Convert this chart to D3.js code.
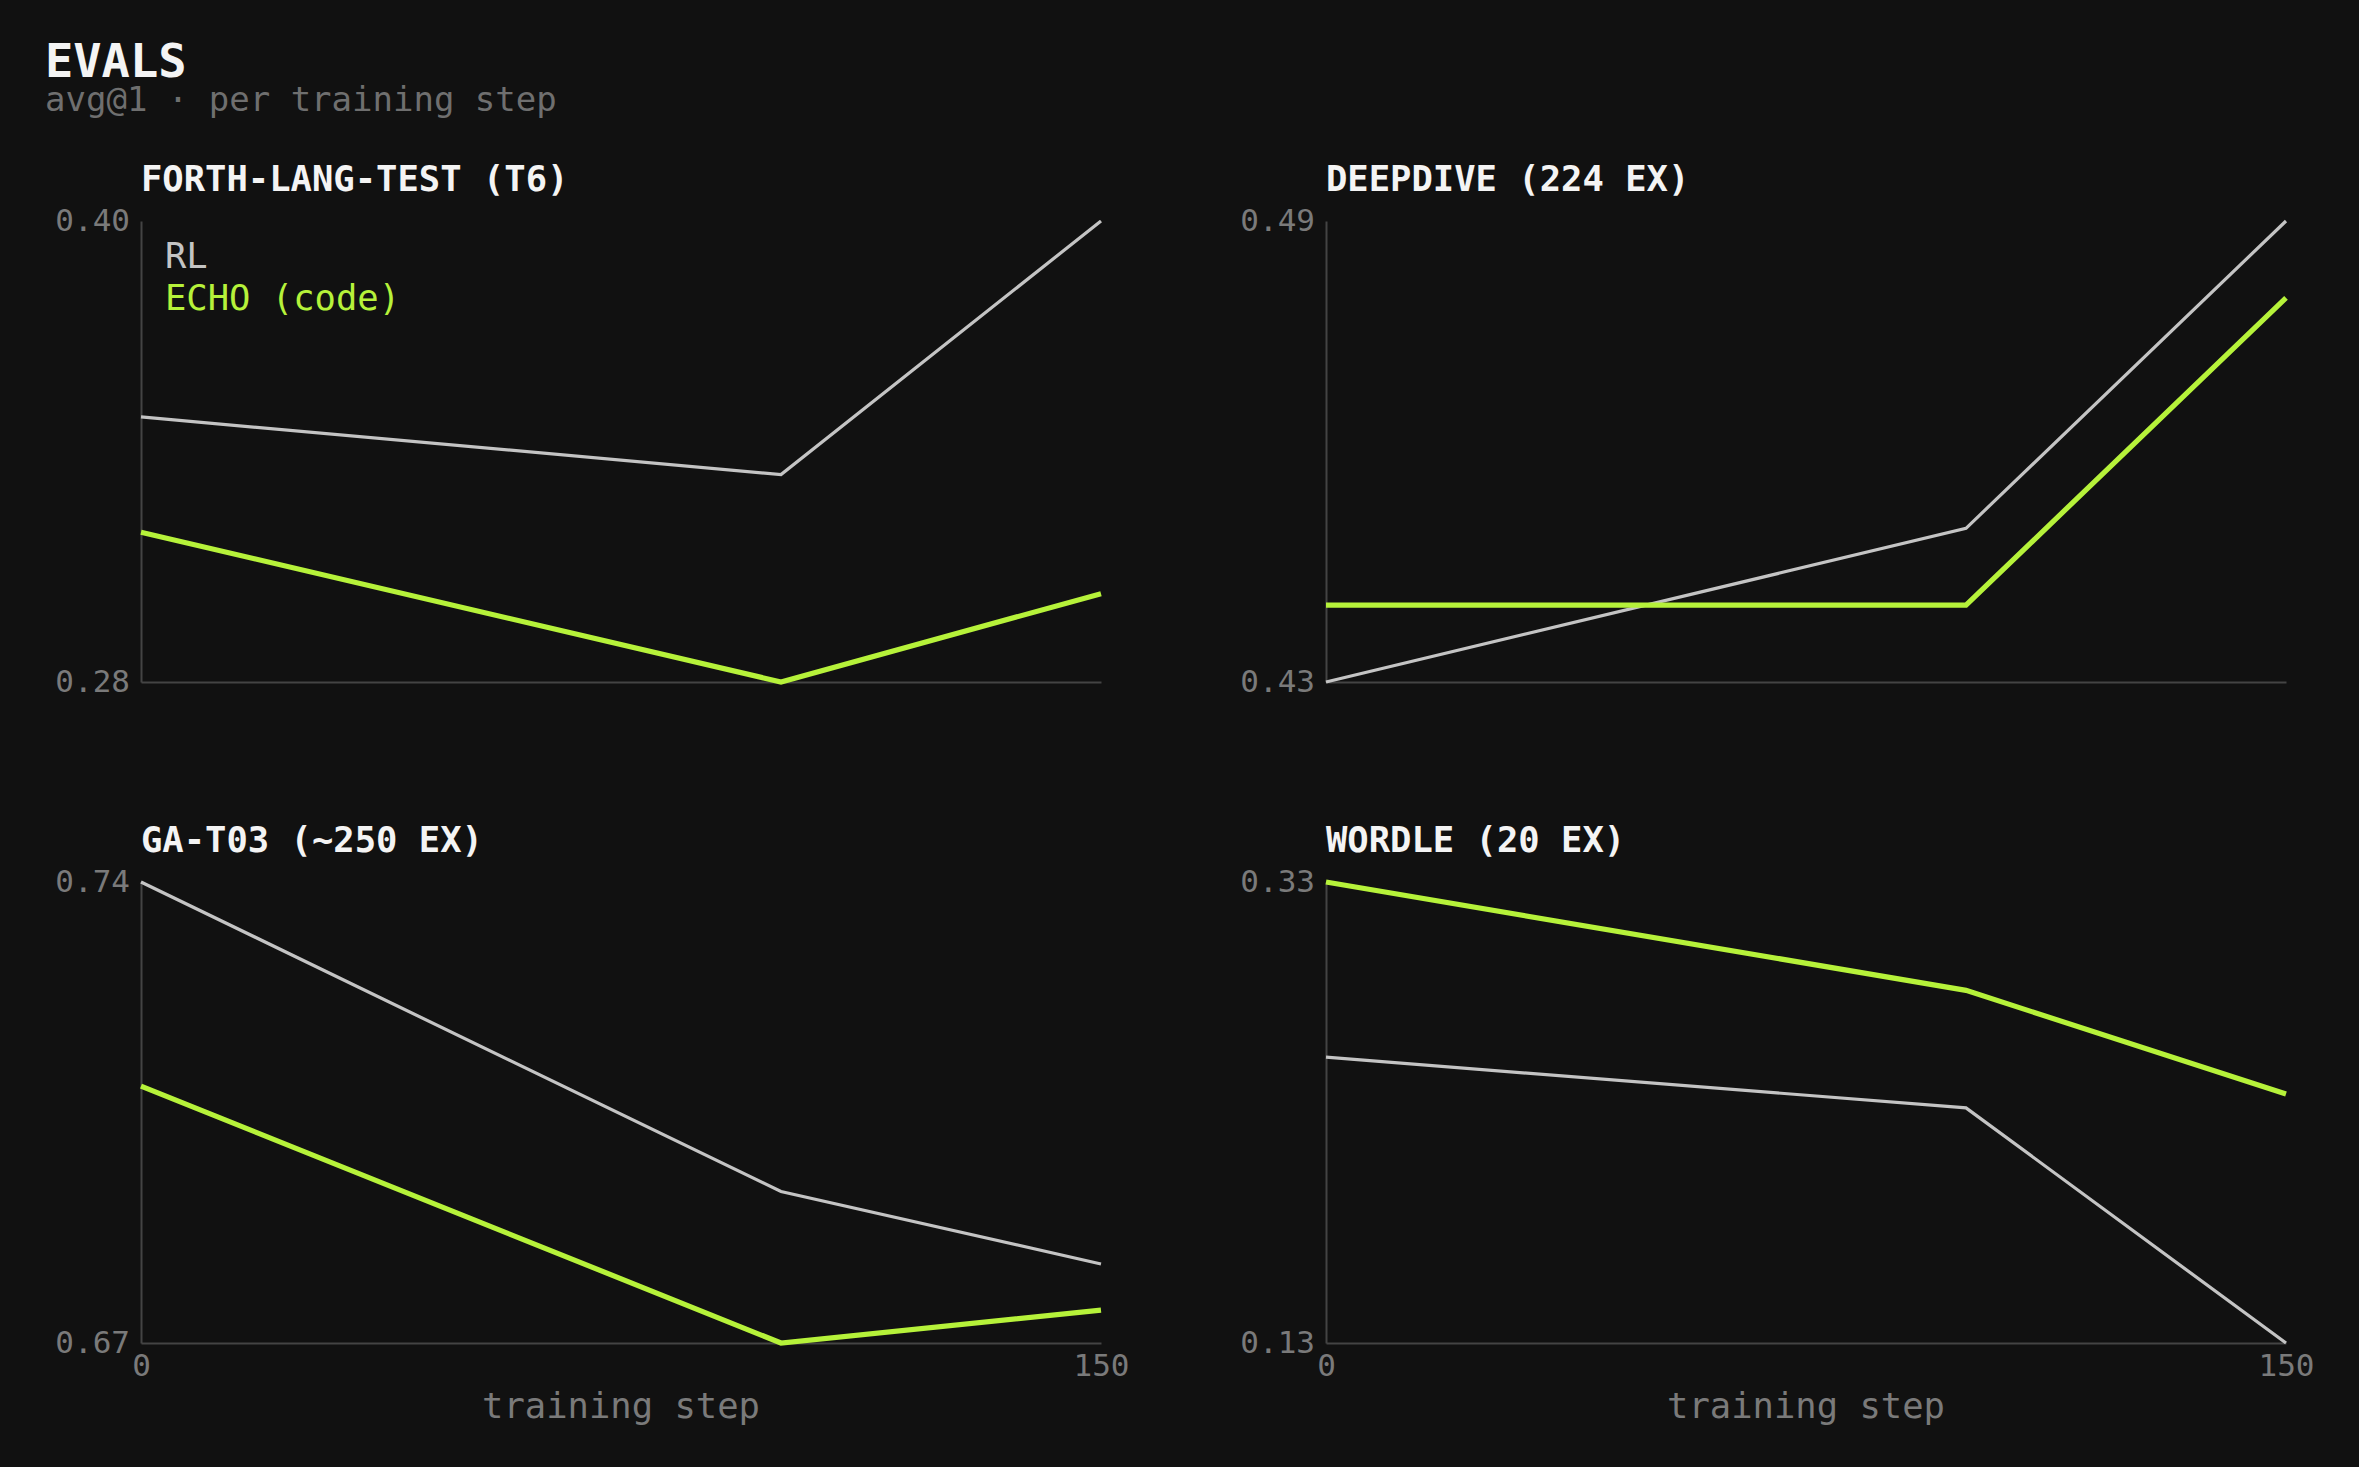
<!DOCTYPE html>
<html>
<head>
<meta charset="utf-8">
<script src="https://cdn.jsdelivr.net/npm/d3@7"></script>
<style>
  html, body { margin: 0; padding: 0; background: #111111; }
  svg { display: block; }
  text { font-family: "DejaVu Sans Mono", "Liberation Mono", monospace; }
</style>
</head>
<body>
<div id="chart"></div>
<script>
// chart values
var steps = [0, 100, 150];
var xTickLabels = [0, 150];
var panelTitles = ["FORTH-LANG-TEST (T6)", "DEEPDIVE (224 EX)", "GA-T03 (~250 EX)", "WORDLE (20 EX)"];
var yDomains = [[0.28, 0.40], [0.43, 0.49], [0.67, 0.74], [0.13, 0.33]];
var rlValues = [
  [0.349, 0.334, 0.400],
  [0.430, 0.450, 0.490],
  [0.740, 0.693, 0.682],
  [0.254, 0.232, 0.130]
];
var echoValues = [
  [0.319, 0.280, 0.303],
  [0.440, 0.440, 0.480],
  [0.709, 0.670, 0.675],
  [0.330, 0.283, 0.238]
];
var seriesNames = ["RL", "ECHO (code)"];

// Define SVG area dimensions
var svgWidth = 2359;
var svgHeight = 1467;

var colors = {
  bg: "#111111",
  axis: "#444444",
  tick: "#7a7a7a",
  rl: "#c4c4c4",
  echo: "#b6f23a",
  title: "#f4f4f4"
};

// panel grid
var panelWidth = 960;
var panelHeight = 461;
var colX = [141, 1326];
var rowY = [221, 882];

var svg = d3.select("#chart")
  .append("svg")
  .attr("width", svgWidth)
  .attr("height", svgHeight);

svg.append("rect")
  .attr("width", svgWidth)
  .attr("height", svgHeight)
  .attr("fill", colors.bg);

// header
svg.append("text")
  .attr("x", 45)
  .attr("y", 77)
  .attr("fill", colors.title)
  .attr("font-size", 47)
  .attr("font-weight", "bold")
  .text("EVALS");

svg.append("text")
  .attr("x", 45)
  .attr("y", 111)
  .attr("fill", "#6f6f6f")
  .attr("font-size", 34)
  .text("avg@1 \u00b7 per training step");

var xScale = d3.scaleLinear()
  .domain([steps[0], steps[steps.length - 1]])
  .range([0, panelWidth]);

panelTitles.forEach(function(title, i) {
  var col = i % 2;
  var row = Math.floor(i / 2);
  var isBottom = row === 1;

  var g = svg.append("g")
    .attr("transform", `translate(${colX[col]}, ${rowY[row]})`);

  var yScale = d3.scaleLinear()
    .domain(yDomains[i])
    .range([panelHeight, 0]);

  // title
  g.append("text")
    .attr("x", 0)
    .attr("y", -30)
    .attr("fill", colors.title)
    .attr("font-size", 35.5)
    .attr("font-weight", "bold")
    .text(title);

  // y axis: just the two ends
  var leftAxis = d3.axisLeft(yScale)
    .tickValues(yDomains[i])
    .tickFormat(d3.format(".2f"))
    .tickSize(0)
    .tickPadding(11);

  var yAxisG = g.append("g").call(leftAxis);

  // x axis
  var bottomAxis = d3.axisBottom(xScale)
    .tickValues(isBottom ? xTickLabels : [])
    .tickFormat(d3.format("d"))
    .tickSize(0)
    .tickPadding(11);

  var xAxisG = g.append("g")
    .attr("transform", `translate(0, ${panelHeight})`)
    .call(bottomAxis);

  [yAxisG, xAxisG].forEach(function(a) {
    a.select(".domain").attr("stroke", colors.axis).attr("stroke-width", 2);
    a.selectAll("text")
      .attr("fill", colors.tick)
      .attr("font-size", 31)
      .attr("font-family", "DejaVu Sans Mono");
  });

  if (isBottom) {
    g.append("text")
      .attr("x", panelWidth / 2)
      .attr("y", panelHeight + 75)
      .attr("text-anchor", "middle")
      .attr("fill", colors.tick)
      .attr("font-size", 35.5)
      .text("training step");
  }

  var line = d3.line()
    .x(function(d, j) { return xScale(steps[j]); })
    .y(function(d) { return yScale(d); });

  g.append("path")
    .datum(rlValues[i])
    .attr("d", line)
    .attr("fill", "none")
    .attr("stroke", colors.rl)
    .attr("stroke-width", 3.2);

  g.append("path")
    .datum(echoValues[i])
    .attr("d", line)
    .attr("fill", "none")
    .attr("stroke", colors.echo)
    .attr("stroke-width", 5.2);

  // legend only in the first panel
  if (i === 0) {
    g.selectAll(".legend")
      .data(seriesNames)
      .enter()
      .append("text")
      .attr("class", "legend")
      .attr("x", 24)
      .attr("y", function(d, k) { return 47 + k * 42; })
      .attr("fill", function(d, k) { return k === 0 ? colors.rl : colors.echo; })
      .attr("font-size", 35.5)
      .text(function(d) { return d; });
  }
});
</script>
</body>
</html>
